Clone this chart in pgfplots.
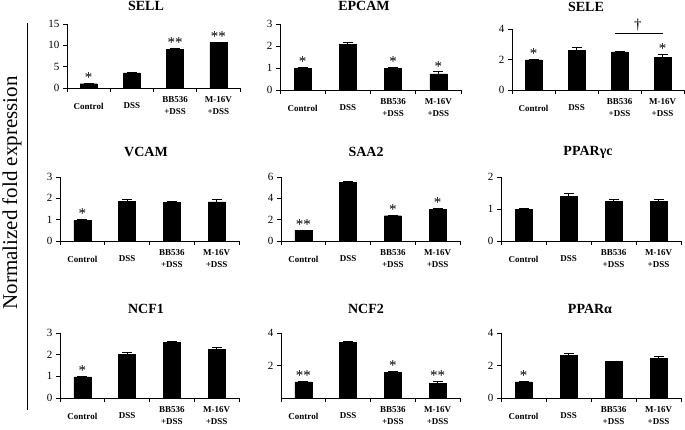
\documentclass[border=0pt]{standalone}
\usepackage{fontspec}
\setmainfont{Liberation Serif}
\usepackage{pgfplots}
\pgfplotsset{compat=1.18}
\newcommand\fs[1]{\fontsize{#1}{#1}\selectfont}
\pgfplotsset{
  panel/.style={
    scale only axis, anchor=south west, clip=false,
    axis x line*=bottom, axis y line*=left,
    axis line style={line width=0.9pt},
    xmin=0.5, xmax=4.5, ymin=0,
    xtick={0.5,1.5,2.5,3.5,4.5}, xticklabels={},
    extra x ticks={1,2,3,4},
    extra x tick labels={Control,DSS,{BB536\\+DSS},{M-16V\\+DSS}},
    extra x tick style={major tick length=0pt,
      xticklabel style={font=\bfseries\fontsize{9}{12}\selectfont, align=center, anchor=center, yshift=-18pt}},
    tick align=outside,
    major tick length=4pt,
    tick style={line width=0.8pt, black},
    yticklabel style={font=\fs{11}},
    /pgf/number format/assume math mode=true,
  },
  bars/.style={ybar, bar width=17pt, fill=black, draw=black,
    error bars/.cd, y dir=plus, y explicit,
    error bar style={line width=0.8pt, black},
    error mark options={rotate=90, mark size=5pt, line width=0.8pt, black}},
  stars/.style={draw=none, mark=none, nodes near coords, point meta=explicit symbolic,
    nodes near coords style={font=\fs{15}, anchor=south, inner sep=0.5pt, text=black}},
}
\begin{document}
\begin{tikzpicture}
\useasboundingbox (0,0) rectangle (685pt,-430pt);
\node[rotate=90, font=\fs{21}] at (12pt,-193pt) {Normalized fold expression};
\draw[line width=0.9pt] (27pt,-23pt) -- (27pt,-410pt);
% titles
\begin{scope}[every node/.style={font=\bfseries\fs{14}}]
\node at (146pt,-6pt) {SELL};
\node at (364pt,-6pt) {EPCAM};
\node at (586pt,-7pt) {SELE};
\node at (146pt,-152pt) {VCAM};
\node at (366pt,-152pt) {SAA2};
\node at (588pt,-152pt) {PPARγc};
\node at (146pt,-309pt) {NCF1};
\node at (366pt,-309pt) {NCF2};
\node at (590pt,-309pt) {PPARα};
\end{scope}
% SELL
\begin{axis}[panel, at={(67pt,-88pt)}, width=173pt, height=64pt, ymax=15, ytick={0,5,10,15}]
\addplot[bars] coordinates {(1,1.0) +- (0,0.08) (2,3.55) +- (0,0.1) (3,9.1) +- (0,0.12) (4,10.65) +- (0,0.12)};
\addplot[stars] coordinates {(1,1.08) [*] (3,9.22) [**] (4,10.77) [**]};
\end{axis}
% EPCAM
\begin{axis}[panel, at={(280pt,-90pt)}, width=181pt, height=66pt, ymax=3, ytick={0,1,2,3}]
\addplot[bars] coordinates {(1,0.99) +- (0,0.03) (2,2.07) +- (0,0.09) (3,0.99) +- (0,0.03) (4,0.73) +- (0,0.1)};
\addplot[stars] coordinates {(1,1.02) [*] (3,1.02) [*] (4,0.83) [*]};
\end{axis}
% SELE
\begin{axis}[panel, at={(512pt,-90pt)}, width=172pt, height=61pt, ymax=4, ytick={0,2,4}]
\addplot[bars] coordinates {(1,1.98) +- (0,0.04) (2,2.62) +- (0,0.17) (3,2.5) +- (0,0.06) (4,2.13) +- (0,0.22)};
\addplot[stars] coordinates {(1,2.02) [*] (4,2.35) [*]};
\addplot[black, line width=0.8pt] coordinates {(2.9,3.74) (4.0,3.74)};
\addplot[draw=none, nodes near coords, point meta=explicit symbolic,
  nodes near coords style={font=\fs{15}, anchor=south, inner sep=1pt, text=black}] coordinates {(3.43,3.78) [†]};
\end{axis}
% VCAM
\begin{axis}[panel, at={(60pt,-241pt)}, width=179pt, height=64pt, ymax=3, ytick={0,1,2,3}]
\addplot[bars] coordinates {(1,0.98) +- (0,0.03) (2,1.86) +- (0,0.1) (3,1.81) +- (0,0.03) (4,1.83) +- (0,0.12)};
\addplot[stars] coordinates {(1,1.01) [*]};
\end{axis}
% SAA2
\begin{axis}[panel, at={(281pt,-241pt)}, width=179pt, height=64pt, ymax=6, ytick={0,2,4,6}]
\addplot[bars] coordinates {(1,1.0) +- (0,0.03) (2,5.52) +- (0,0.1) (3,2.37) +- (0,0.06) (4,2.97) +- (0,0.12)};
\addplot[stars] coordinates {(1,1.03) [**] (3,2.43) [*] (4,3.09) [*]};
\end{axis}
% PPARgc
\begin{axis}[panel, at={(501pt,-241pt)}, width=180pt, height=64pt, ymax=2, ytick={0,1,2}]
\addplot[bars] coordinates {(1,0.99) +- (0,0.02) (2,1.39) +- (0,0.09) (3,1.23) +- (0,0.08) (4,1.23) +- (0,0.08)};
\end{axis}
% NCF1
\begin{axis}[panel, at={(60pt,-398pt)}, width=179pt, height=65pt, ymax=3, ytick={0,1,2,3}]
\addplot[bars] coordinates {(1,0.98) +- (0,0.03) (2,2.0) +- (0,0.1) (3,2.57) +- (0,0.04) (4,2.23) +- (0,0.12)};
\addplot[stars] coordinates {(1,1.01) [*]};
\end{axis}
% NCF2
\begin{axis}[panel, at={(281pt,-398pt)}, width=179pt, height=65pt, ymax=4, ytick={2,4}]
\addplot[bars] coordinates {(1,1.0) +- (0,0.04) (2,3.43) +- (0,0.07) (3,1.58) +- (0,0.04) (4,0.92) +- (0,0.12)};
\addplot[stars] coordinates {(1,1.04) [**] (3,1.62) [*] (4,1.04) [**]};
\end{axis}
% PPARa
\begin{axis}[panel, at={(501pt,-398pt)}, width=180pt, height=65pt, ymax=4, ytick={0,2,4}]
\addplot[bars] coordinates {(1,1.0) +- (0,0.04) (2,2.62) +- (0,0.12) (3,2.24) +- (0,0.04) (4,2.42) +- (0,0.15)};
\addplot[stars] coordinates {(1,1.04) [*]};
\end{axis}
\end{tikzpicture}
\end{document}
